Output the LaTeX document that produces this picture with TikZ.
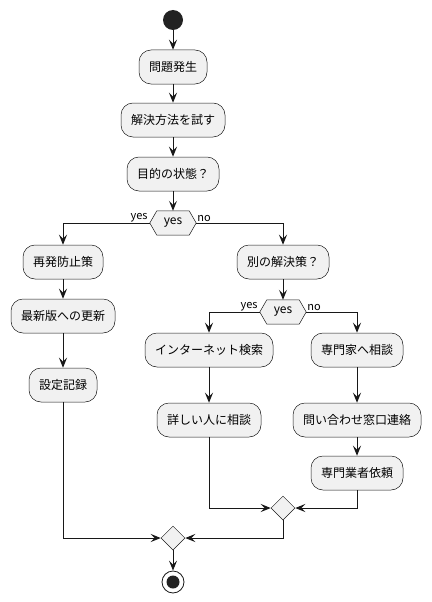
\documentclass[tikz,border=0pt]{standalone}
\usepackage{fontspec}
\setmainfont{Noto Sans CJK JP}
\usetikzlibrary{arrows.meta,shapes.geometric,backgrounds}
\definecolor{boxfill}{HTML}{F1F1F1}
\definecolor{ink}{HTML}{181818}
\definecolor{dot}{HTML}{222222}
\begin{document}
\begin{tikzpicture}[x=1pt,y=-1pt,
  act/.style={draw=ink,line width=0.5pt,fill=boxfill,rounded corners=12pt,minimum height=34pt,inner xsep=10pt,inner ysep=0pt,font=\fontsize{12}{14}\selectfont},
  hexnode/.style={minimum width=46pt,minimum height=24pt,inner sep=0pt,font=\fontsize{12}{14}\selectfont},
  merge/.style={diamond,draw=ink,line width=0.5pt,fill=boxfill,minimum width=24pt,minimum height=24pt,inner sep=0pt},
  lbl/.style={font=\fontsize{11}{12}\selectfont,inner sep=0pt},
  arr/.style={draw=ink,line width=1pt,-{Stealth[length=10pt,width=8pt,inset=4pt]}}
]
\useasboundingbox (0,0) rectangle (431,602);
\node[circle,fill=dot,minimum size=20pt,inner sep=0pt] (start) at (173,20) {};
\node[act] (a1) at (173,67) {問題発生};
\node[act] (a2) at (173,120) {解決方法を試す};
\node[act] (a3) at (173,174) {目的の状態？};
\node[hexnode] (h1) at (173,223) {yes};
\node[act] (l1) at (63,262) {再発防止策};
\node[act] (l2) at (63,316) {最新版への更新};
\node[act] (l3) at (63,385) {設定記録};
\node[act] (r1) at (283,262) {別の解決策？};
\node[hexnode] (h2) at (283,312) {yes};
\node[act] (p1) at (209,350) {インターネット検索};
\node[act] (p2) at (209,420) {詳しい人に相談};
\node[act] (q1) at (357,350) {専門家へ相談};
\node[act] (q2) at (357,420) {問い合わせ窓口連絡};
\node[act] (q3) at (357,473) {専門業者依頼};
\node[merge] (m1) at (283,508) {};
\node[merge] (m2) at (173,538) {};
\node[circle,draw=ink,line width=0.8pt,fill=white,minimum size=22pt,inner sep=0pt] (stop) at (173,582) {};
\node[circle,fill=dot,minimum size=13pt,inner sep=0pt] (stopdot) at (stop.center) {};
\begin{scope}[on background layer]
\foreach \h in {h1,h2}{
  \draw[draw=ink,line width=0.5pt,fill=boxfill] (\h.west) -- ([xshift=7pt]\h.north west) -- ([xshift=-7pt]\h.north east) -- (\h.east) -- ([xshift=-7pt]\h.south east) -- ([xshift=7pt]\h.south west) -- cycle;
}
\end{scope}
\node[lbl,anchor=south east] (y1) at ([xshift=-2pt,yshift=1pt]h1.west) {yes};
\node[lbl,anchor=south west] (n1) at ([xshift=1pt,yshift=1pt]h1.east) {no};
\node[lbl,anchor=south east] (y2) at ([xshift=-2pt,yshift=1pt]h2.west) {yes};
\node[lbl,anchor=south west] (n2) at ([xshift=1pt,yshift=1pt]h2.east) {no};
\draw[arr] (start) -- (a1);
\draw[arr] (a1) -- (a2);
\draw[arr] (a2) -- (a3);
\draw[arr] (a3) -- (h1.north);
\draw[arr] (h1.west) -| (l1);
\draw[arr] (h1.east) -| (r1);
\draw[arr] (l1) -- (l2);
\draw[arr] (l2) -- (l3);
\draw[arr] (r1) -- (h2.north);
\draw[arr] (h2.west) -| (p1);
\draw[arr] (h2.east) -| (q1);
\draw[arr] (p1) -- (p2);
\draw[arr] (q1) -- (q2);
\draw[arr] (q2) -- (q3);
\draw[arr] (p2) |- (m1);
\draw[arr] (q3) |- (m1);
\draw[arr] (l3) |- (m2);
\draw[arr] (m1) |- (m2);
\draw[arr] (m2) -- (stop);
\end{tikzpicture}
\end{document}
